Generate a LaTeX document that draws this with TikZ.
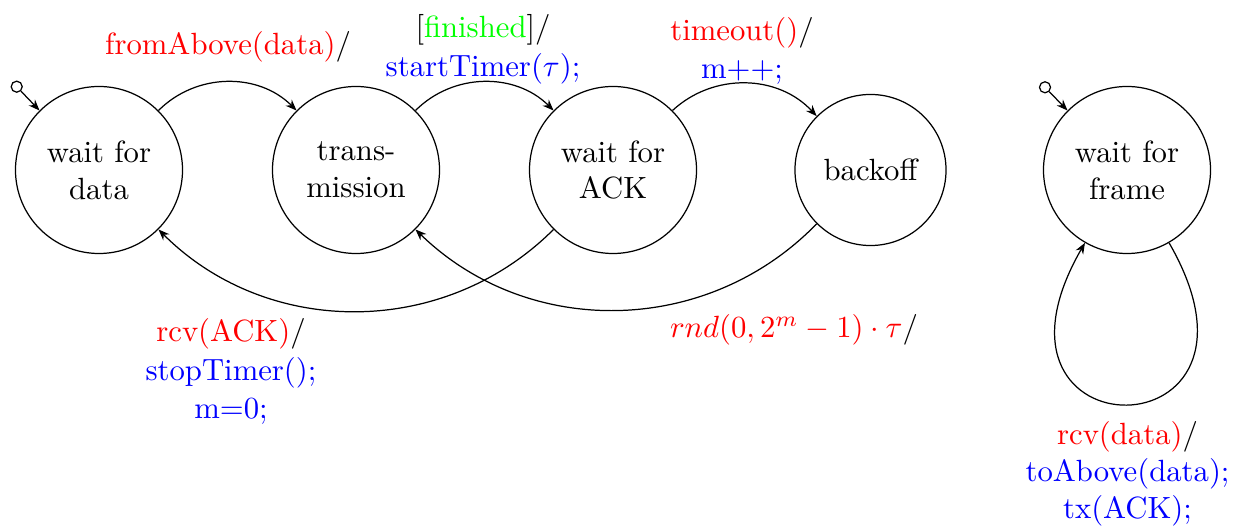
\documentclass[tikz,border=0pt]{standalone}
\usetikzlibrary{arrows.meta}
\begin{document}
\begin{tikzpicture}[x=0.3257pt,y=0.3257pt,
  stt/.style={circle,draw,align=center,inner sep=0pt,minimum size=54.4pt},
  initmark/.style={circle,draw,inner sep=0pt,minimum size=3.6pt},
  edge/.style={-{Stealth[length=3.6pt,width=2.8pt]}},
  lbl/.style={align=center,inner sep=0pt},
]
\useasboundingbox (0,0) rectangle (1241,-532);

% states
\node[stt] (data)  at (99,-170)   {wait for\\data};
\node[stt] (trans) at (356,-170)  {trans-\\mission};
\node[stt] (ack)   at (613,-170)  {wait for\\ACK};
\node[stt,minimum size=49.2pt] (back) at (870.5,-170) {backoff};
\node[stt] (frame) at (1127,-170) {wait for\\frame};

% initial markers
\node[initmark] (i1) at (16.7,-86.7) {};
\node[initmark] (i2) at (1045,-87.3) {};
\draw[edge] (i1) -- (data.135);
\draw[edge] (i2) -- (frame.135);

% transitions
\draw[edge] (data) to[bend left=45] (trans);
\draw[edge] (trans) to[bend left=45] (ack);
\draw[edge] (ack) to[bend left=45] (back);
\draw[edge] (ack) to[bend left=45] (data);
\draw[edge] (back) to[bend left=45] (trans);
\draw[edge] (frame) to[out=-60,in=-120,distance=81pt] (frame);

% transition labels
\node[lbl,anchor=base] (l1) at (228,-55) {\textcolor{red}{fromAbove(data)}/};
\node[lbl,font=\fontsize{10}{12.6}\selectfont] (l2) at (483,-49)
  {[\textcolor{green}{finished}]/\\\textcolor{blue}{startTimer($\tau$);}};
\node[lbl,font=\fontsize{10}{12.4}\selectfont] (l3) at (742,-50.5)
  {\textcolor{red}{timeout()}/\\\textcolor{blue}{m++;}};
\node[lbl,font=\fontsize{10}{12.4}\selectfont] (l4) at (231,-371.5)
  {\textcolor{red}{rcv(ACK)}/\\\textcolor{blue}{stopTimer();}\\\textcolor{blue}{m=0;}};
\node[lbl,anchor=base] (l5) at (794,-338)
  {\textcolor{red}{$rnd(0,2^m-1)\cdot\tau$}/};
\node[lbl,font=\fontsize{10}{12}\selectfont] (l6) at (1127.5,-474)
  {\textcolor{red}{rcv(data)}/\\\textcolor{blue}{toAbove(data);}\\\textcolor{blue}{tx(ACK);}};
\end{tikzpicture}
\end{document}
